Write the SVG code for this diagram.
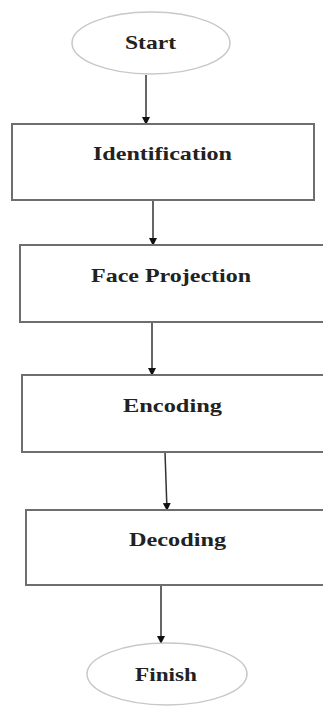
<svg xmlns="http://www.w3.org/2000/svg" width="323" height="706" viewBox="0 0 323 706">
<style>
.box{fill:#fff;stroke:#6e6e6e;stroke-width:2}
.oval{fill:#fff;stroke:#c8c8c8;stroke-width:1.5}
.lbl{font-family:"Liberation Serif","Times New Roman",serif;font-weight:bold;font-size:19px;fill:#222;text-anchor:middle}
.conn{stroke:#333;stroke-width:1.5;fill:none;marker-end:url(#ah)}
</style>
<defs>
<marker id="ah" markerWidth="8" markerHeight="8" refX="7" refY="4" orient="auto" markerUnits="userSpaceOnUse">
<path d="M0,0 L8,4 L0,8 Z" fill="#111"/>
</marker>
</defs>
<rect width="323" height="706" fill="#fff"/>
<g id="connectors">
<line class="conn" x1="146" y1="75" x2="146" y2="124"/>
<line class="conn" x1="153" y1="200" x2="153" y2="245"/>
<line class="conn" x1="152" y1="322" x2="152" y2="375"/>
<line class="conn" x1="165" y1="452" x2="167" y2="510"/>
<line class="conn" x1="161" y1="585" x2="161" y2="643"/>
</g>
<g id="start">
<ellipse class="oval" cx="151" cy="43" rx="79" ry="31"/>
<text class="lbl" x="150.5" y="49" textLength="51" lengthAdjust="spacingAndGlyphs">Start</text>
</g>
<g id="identification">
<rect class="box" x="12" y="124" width="302" height="76"/>
<text class="lbl" x="162.5" y="160" textLength="139" lengthAdjust="spacingAndGlyphs">Identification</text>
</g>
<g id="face-projection">
<rect class="box" x="20" y="245" width="304" height="77"/>
<text class="lbl" x="171" y="282" textLength="160" lengthAdjust="spacingAndGlyphs">Face Projection</text>
</g>
<g id="encoding">
<rect class="box" x="22" y="375" width="302" height="77"/>
<text class="lbl" x="172.5" y="412" textLength="99" lengthAdjust="spacingAndGlyphs">Encoding</text>
</g>
<g id="decoding">
<rect class="box" x="26" y="510" width="298" height="75"/>
<text class="lbl" x="177.5" y="546" textLength="97" lengthAdjust="spacingAndGlyphs">Decoding</text>
</g>
<g id="finish">
<ellipse class="oval" cx="167" cy="674" rx="80" ry="31"/>
<text class="lbl" x="166" y="681" textLength="62" lengthAdjust="spacingAndGlyphs">Finish</text>
</g>
</svg>
